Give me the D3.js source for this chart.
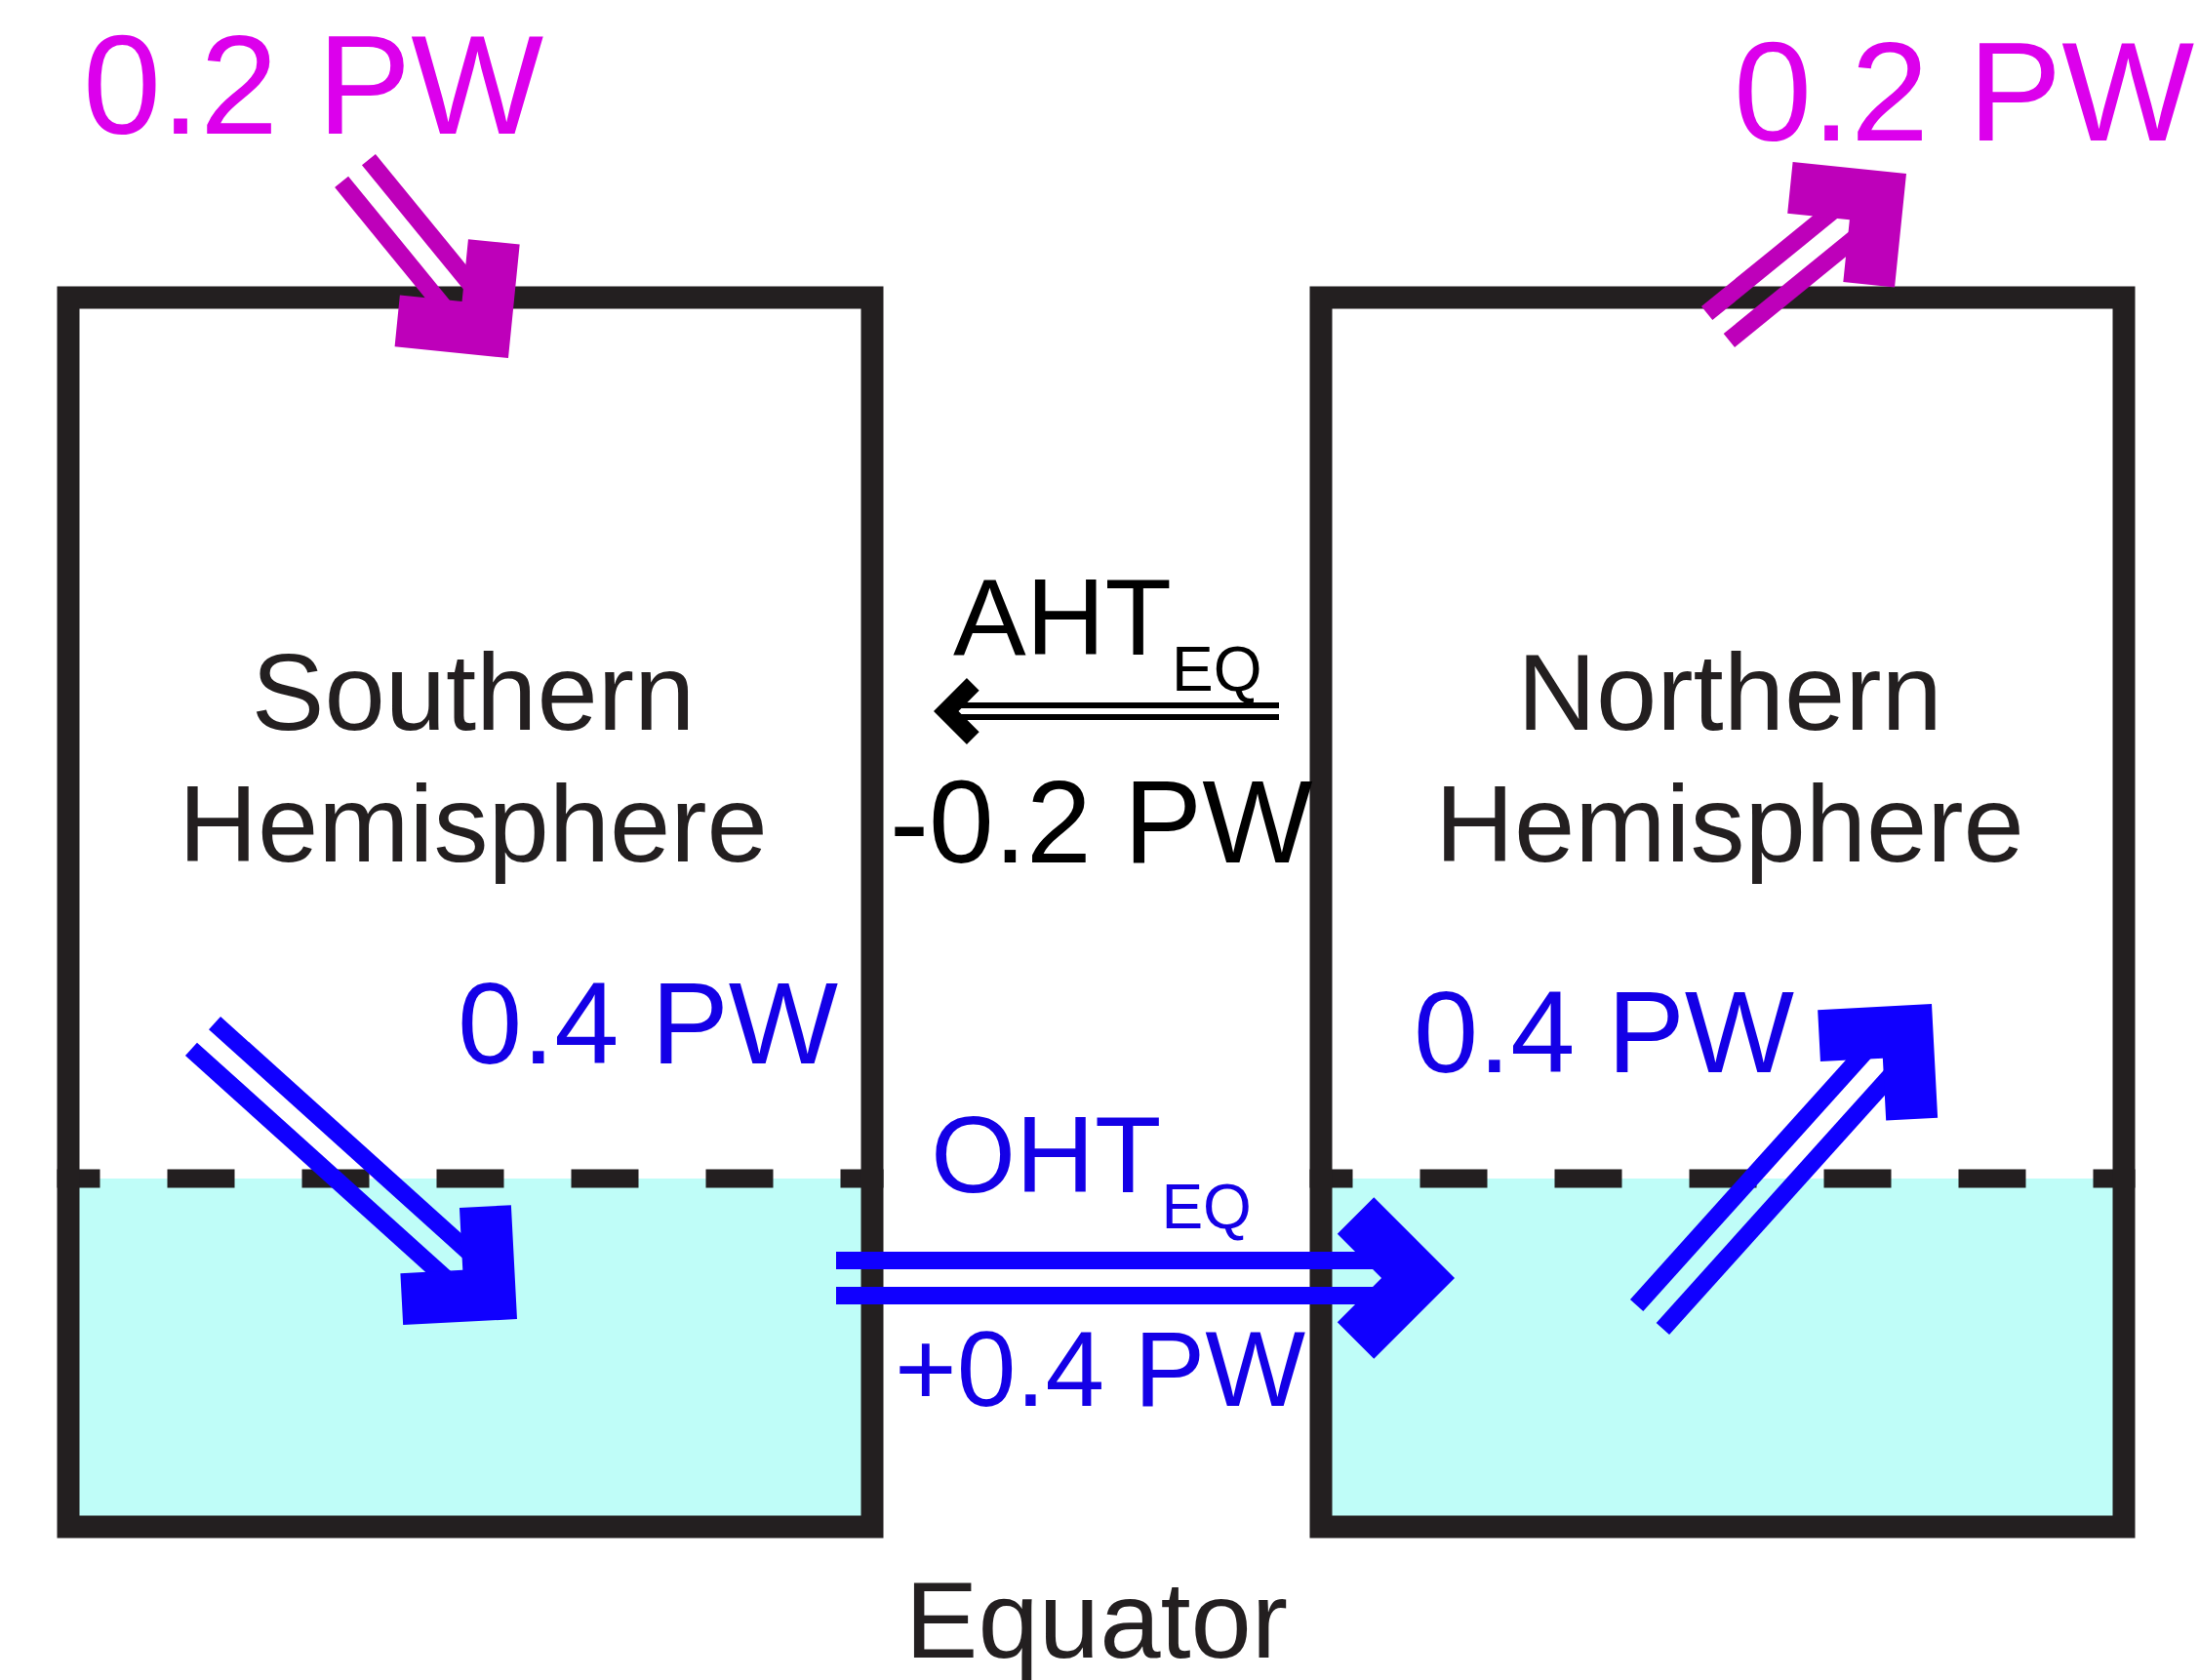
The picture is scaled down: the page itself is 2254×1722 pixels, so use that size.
<!DOCTYPE html>
<html>
<head>
<meta charset="utf-8">
<script src="https://cdn.jsdelivr.net/npm/d3@7"></script>
<style>
  html, body { margin: 0; background: #fff; }
  svg { display: block; }
</style>
</head>
<body>
<div id="chart"></div>
<script>
// Values (PW) shown in the two-box energy budget sketch
const hemisphereNames = [["Southern", "Hemisphere"], ["Northern", "Hemisphere"]];
const toaFluxPW = [0.2, 0.2];        // SH: into the box, NH: out of the box
const surfaceFluxPW = [0.4, 0.4];    // SH: atmosphere -> ocean, NH: ocean -> atmosphere
const transportNames = ["AHT", "OHT"];
const transportPW = [-0.2, 0.4];     // cross-equatorial transports
const equatorLabel = "Equator";

const W = 2254, H = 1722;
const INK = "#231f20";
const MAGENTA_TXT = "#dc00ec", MAGENTA = "#be00ba";
const BLUE_TXT = "#1400e6", BLUE = "#1000ff";
const OCEAN = "#bffdf8";
const FONT = "'Liberation Sans', Arial, Helvetica, sans-serif";

const fmtLocale = d3.formatLocale({ decimal: ".", thousands: ",", grouping: [3], currency: ["", ""], minus: "-" });
const fmtPW = v => fmtLocale.format(".1f")(v) + " PW";
const fmtSigned = v => fmtLocale.format("+.1f")(v) + " PW";

// layout of the sketch (stroke centre lines of the boxes)
const boxes = [{ x0: 70, x1: 894 }, { x0: 1354, x1: 2177 }];
const boxTop = 305, boxBottom = 1565, oceanTop = 1208;
const BOX_STROKE = 23;

const svg = d3.select("#chart").append("svg")
  .attr("width", W).attr("height", H)
  .attr("viewBox", `0 0 ${W} ${H}`);

// ocean layer
svg.selectAll("rect.ocean").data(boxes).join("rect")
  .attr("class", "ocean")
  .attr("x", d => d.x0).attr("y", oceanTop)
  .attr("width", d => d.x1 - d.x0).attr("height", boxBottom - oceanTop)
  .attr("fill", OCEAN);

// dashed surface line (pattern starts at the outer box edge)
svg.selectAll("line.surface").data(boxes).join("line")
  .attr("class", "surface")
  .attr("x1", d => d.x0 - BOX_STROKE / 2).attr("x2", d => d.x1 + BOX_STROKE / 2)
  .attr("y1", oceanTop).attr("y2", oceanTop)
  .attr("stroke", INK).attr("stroke-width", 19)
  .attr("stroke-dasharray", "69 69").attr("stroke-dashoffset", 25);

// hemisphere boxes
svg.selectAll("rect.box").data(boxes).join("rect")
  .attr("class", "box")
  .attr("x", d => d.x0).attr("y", boxTop)
  .attr("width", d => d.x1 - d.x0).attr("height", boxBottom - boxTop)
  .attr("fill", "none").attr("stroke", INK).attr("stroke-width", BOX_STROKE);

// arrow = two parallel shafts + square chevron head
function arrowParts(a) {
  const dx = a.tip[0] - a.from[0], dy = a.tip[1] - a.from[1];
  const len = Math.hypot(dx, dy);
  const ux = dx / len, uy = dy / len;
  const px = -uy, py = ux;
  const P = (u, v) => [a.tip[0] + u * ux + v * px, a.tip[1] + u * uy + v * py];
  const r = Math.SQRT1_2, L = a.head, k = a.arm;
  const head = [
    P(0, 0), P(-L * r, -L * r), P(-(L + k) * r, -(L - k) * r),
    P(-k * Math.SQRT2, 0),
    P(-(L + k) * r, (L - k) * r), P(-L * r, L * r)
  ];
  const shafts = [-1, 1].map(s => [P(-len, s * a.sep / 2), P(-k * Math.SQRT2, s * a.sep / 2)]);
  return { head, shafts };
}

const arrows = [
  { from: [364, 175], tip: [521, 367], color: MAGENTA, head: 117, arm: 53, sep: 36, lw: 18 },
  { from: [1761, 335], tip: [1954, 178], color: MAGENTA, head: 117, arm: 53, sep: 36, lw: 18 },
  { from: [208, 1062], tip: [530, 1352], color: BLUE, head: 117, arm: 53, sep: 36, lw: 18 },
  { from: [1691, 1350], tip: [1980, 1029], color: BLUE, head: 117, arm: 53, sep: 36, lw: 18 },
  { from: [857, 1310], tip: [1491, 1310], color: BLUE, head: 117, arm: 53, sep: 36, lw: 18 },
  { from: [1311, 729], tip: [957, 729], color: "#000", head: 48, arm: 18, sep: 12, lw: 6 }
];

const line = d3.line();
const gArrows = svg.append("g").attr("class", "arrows");
arrows.forEach(a => {
  const parts = arrowParts(a);
  const g = gArrows.append("g");
  g.selectAll("path.shaft").data(parts.shafts).join("path")
    .attr("class", "shaft")
    .attr("d", line)
    .attr("stroke", a.color).attr("stroke-width", a.lw)
    .attr("fill", "none").attr("stroke-linecap", "butt");
  g.append("path")
    .attr("d", line(parts.head) + "Z")
    .attr("fill", a.color);
});

// text
const text = svg.append("g").attr("font-family", FONT);

text.selectAll("text.toa").data([
  { v: toaFluxPW[0], x: 85, y: 137 },
  { v: toaFluxPW[1], x: 1777, y: 144 }
]).join("text")
  .attr("class", "toa")
  .attr("x", d => d.x).attr("y", d => d.y)
  .attr("font-size", 144).attr("fill", MAGENTA_TXT)
  .text(d => fmtPW(d.v));

text.selectAll("text.sfc").data([
  { v: surfaceFluxPW[0], x: 469, y: 1090 },
  { v: surfaceFluxPW[1], x: 1449, y: 1099 }
]).join("text")
  .attr("class", "sfc")
  .attr("x", d => d.x).attr("y", d => d.y)
  .attr("font-size", 119).attr("fill", BLUE_TXT)
  .text(d => fmtPW(d.v));

hemisphereNames.forEach((lines, i) => {
  const cx = i === 0 ? 485 : 1773;
  text.selectAll(`text.hemi${i}`).data(lines).join("text")
    .attr("class", `hemi${i}`)
    .attr("x", cx).attr("y", (d, j) => 748 + j * 135)
    .attr("text-anchor", "middle")
    .attr("font-size", 112).attr("fill", INK)
    .text(d => d);
});

// transport names with EQ subscript
[
  { name: transportNames[0], x: 977, y: 671, fill: "#000" },
  { name: transportNames[1], x: 954, y: 1222, fill: BLUE_TXT }
].forEach(d => {
  const t = text.append("text")
    .attr("x", d.x).attr("y", d.y)
    .attr("font-size", 112).attr("fill", d.fill);
  t.append("tspan").text(d.name);
  t.append("tspan").attr("dy", 37).attr("font-size", 64).text("EQ");
});

text.append("text")
  .attr("x", 912).attr("y", 884)
  .attr("font-size", 120).attr("fill", "#000")
  .text(fmtPW(transportPW[0]));

text.append("text")
  .attr("x", 917).attr("y", 1441)
  .attr("font-size", 109).attr("fill", BLUE_TXT)
  .text(fmtSigned(transportPW[1]));

text.append("text")
  .attr("x", (boxes[0].x1 + boxes[1].x0) / 2).attr("y", 1699)
  .attr("text-anchor", "middle")
  .attr("font-size", 112).attr("fill", INK)
  .text(equatorLabel);
</script>
</body>
</html>
